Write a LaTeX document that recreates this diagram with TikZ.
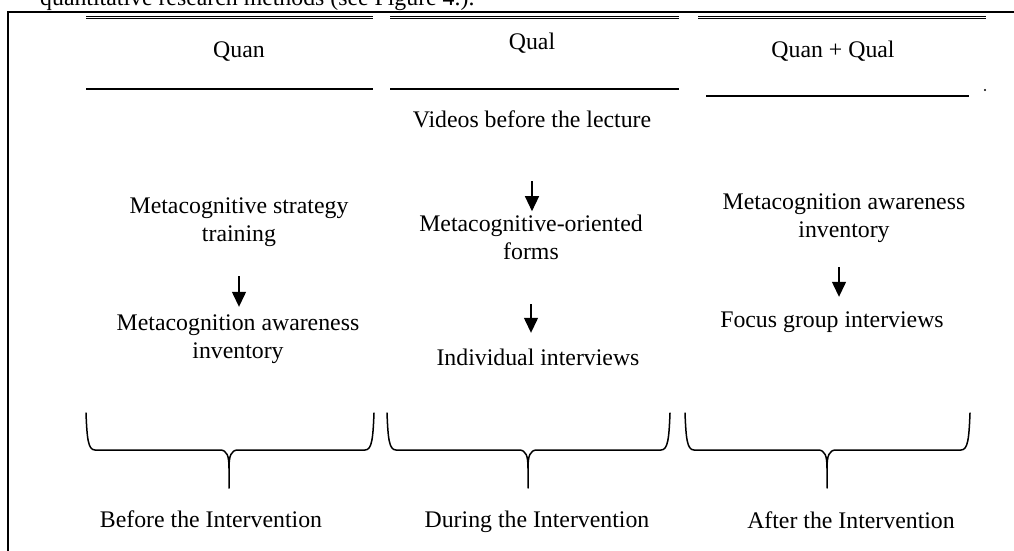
\documentclass[tikz,border=0pt]{standalone}
\usepackage{fontspec}
\setmainfont{Liberation Serif}
\usetikzlibrary{arrows.meta}
\newcommand{\tl}[1]{\begin{tabular}[t]{@{}c@{}}#1\end{tabular}}
\begin{document}
\begin{tikzpicture}[x=1pt,y=-1pt,
  txt/.style={inner sep=0pt, anchor=base, font=\fontsize{23.8}{28}\selectfont},
  frame/.style={line width=1.5pt},
  rule/.style={line width=1.4pt},
  thinrule/.style={line width=0.9pt},
  arr/.style={line width=1.3pt, -{Triangle[width=14pt,length=15pt]}},
  brace/.style={line width=1.5pt, line join=round, line cap=round}
]
\useasboundingbox (0,0) rectangle (1014,551);
% frame and partly cut caption line
\node[txt, anchor=base west] (cap) at (40,6) {quantitative research methods (see Figure 4.).};
\draw[frame] (8,560) -- (8,12) -- (1020,12);

% header rules
\foreach \a/\b in {86/373, 390/679, 698/986}{
  \draw[thinrule] (\a,16.3) -- (\b,16.3);
  \draw[thinrule] (\a,18.9) -- (\b,18.9);
}
\draw[rule] (86,89) -- (373,89);
\draw[rule] (390,89) -- (679,89);
\draw[rule] (706,96) -- (969,96);
\fill (985,90) circle (1.2);

% headers
\node[txt] (hquan) at (239,57) {\tl{Quan}};
\node[txt] (hqual) at (532,50) {\tl{Qual}};
\node[txt] (hmix)  at (833,57) {\tl{Quan + Qual}};

% left column
\node[txt] (l1) at (239,213) {\tl{Metacognitive strategy\\training}};
\node[txt] (l2) at (238,330) {\tl{Metacognition awareness\\inventory}};
\draw[arr, shorten <=26.6pt, shorten >=3.4pt] (l1.south) -- (l1.south |- l2.north);

% middle column
\node[txt] (m1) at (532,127) {\tl{Videos before the lecture}};
\node[txt] (m2) at (531,231) {\tl{Metacognitive-oriented\\forms}};
\node[txt] (m3) at (538,365) {\tl{Individual interviews}};
\draw[arr, shorten <=45.6pt] (m1.south) -- (m1.south |- m2.north);
\draw[arr, shorten <=36.6pt, shorten >=12.4pt] (m2.south) -- (m2.south |- m3.north);

% right column
\node[txt] (r1) at (844,209) {\tl{Metacognition awareness\\inventory}};
\node[txt] (r2) at (832,327) {\tl{Focus group interviews}};
\draw[arr, shorten <=21.6pt, shorten >=10.4pt] ([xshift=-5pt]r1.south) -- ([xshift=-5pt]r1.south |- r2.north);

% braces
\foreach \a/\b/\c in {86/374/229, 387/670/528, 685/970/827}{
  \draw[brace] (\a,413) .. controls (\a+1,438) and (\a+2,450) .. (\a+9,450)
     -- (\c-9,450) .. controls (\c-2,450) and (\c,456) .. (\c,468) -- (\c,488);
  \draw[brace] (\b,413) .. controls (\b-1,438) and (\b-2,450) .. (\b-9,450)
     -- (\c+9,450) .. controls (\c+2,450) and (\c,456) .. (\c,468);
}

% phase labels
\node[txt] (b1) at (211,527) {\tl{Before the Intervention}};
\node[txt] (b2) at (537,527) {\tl{During the Intervention}};
\node[txt] (b3) at (851,528) {\tl{After the Intervention}};
\end{tikzpicture}
\end{document}
